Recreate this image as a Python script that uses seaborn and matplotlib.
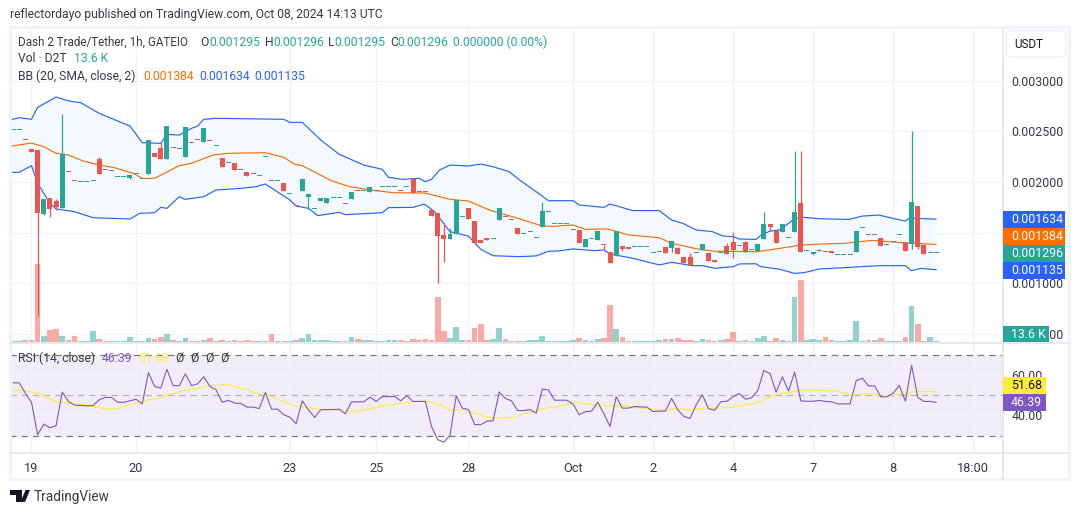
import matplotlib
matplotlib.use("Agg")
import matplotlib.pyplot as plt
import numpy as np
import pandas as pd
import seaborn as sns
from matplotlib.patches import FancyBboxPatch, Polygon, Rectangle

W, H = 1080, 515

# candles, prices in millionths of USDT, one entry per hourly bar
opens = [
    2509, 2509, 2411, 2325, 2315, 1684, 1842, 1813, 1743, 2095,
    2006, 1997, 1997, 2006, 2227, 2115, 2105, 2046, 2046, 2043,
    2075, 2026, 2082, 2286, 2335, 2227, 2332, 2322, 2246, 2381,
    2411, 2394, 2401, 2352, 2237, 2184, 2187, 2115, 2098, 2075,
    2056, 2246, 2006, 2006, 1990, 1878, 1766, 1911, 1852, 1734,
    1812, 1793, 1839, 1839, 1780, 1832, 1908, 1908, 1901, 1908,
    1947, 1947, 1947, 1908, 1947, 2026, 1905, 1905, 1724, 1694,
    1477, 1438, 1490, 1651, 1743, 1615, 1428, 1434, 1434, 1625,
    1651, 1622, 1546, 1484, 1504, 1445, 1557, 1701, 1583, 1583,
    1583, 1524, 1527, 1359, 1435, 1428, 1376, 1310, 1271, 1369,
    1359, 1356, 1356, 1356, 1297, 1307, 1359, 1349, 1349, 1261,
    1261, 1297, 1330, 1300, 1231, 1297, 1369, 1409, 1366, 1409,
    1326, 1320, 1438, 1585, 1516, 1506, 1444, 1506, 1793, 1316,
    1290, 1316, 1306, 1319, 1276, 1276, 1276, 1309, 1543, 1474,
    1474, 1447, 1375, 1405, 1474, 1398, 1388, 1763, 1378, 1296,
    1295,
]
closes = [
    2509, 2509, 2410, 2296, 1697, 1832, 1737, 1753, 2276, 2094,
    2005, 1997, 1997, 2006, 2082, 2114, 2105, 2046, 2046, 2069,
    2075, 2026, 2414, 2246, 2227, 2552, 2331, 2322, 2542, 2380,
    2410, 2532, 2400, 2352, 2148, 2184, 2118, 2114, 2059, 2074,
    2056, 2246, 2005, 2006, 1911, 1878, 1765, 2029, 1881, 1734,
    1842, 1842, 1839, 1839, 1779, 1901, 1907, 1908, 1951, 1907,
    1947, 1947, 1947, 1907, 1947, 1891, 1904, 1904, 1665, 1467,
    1438, 1487, 1822, 1651, 1635, 1398, 1398, 1433, 1434, 1743,
    1650, 1622, 1487, 1484, 1504, 1445, 1714, 1701, 1583, 1583,
    1583, 1524, 1399, 1438, 1435, 1517, 1375, 1202, 1517, 1340,
    1340, 1356, 1356, 1356, 1297, 1307, 1300, 1418, 1290, 1202,
    1182, 1297, 1389, 1221, 1211, 1297, 1290, 1330, 1366, 1310,
    1326, 1389, 1585, 1556, 1398, 1585, 1444, 1704, 1309, 1316,
    1306, 1316, 1305, 1299, 1276, 1276, 1276, 1516, 1543, 1473,
    1474, 1369, 1375, 1405, 1474, 1319, 1802, 1359, 1290, 1296,
    1296,
]
# only the bars that have a visible wick
wick_highs = {
    7: 1832, 8: 2670, 14: 2250, 24: 2388, 70: 1592, 71: 1543, 86: 1803,
    108: 1359, 110: 1300, 116: 1399, 117: 1507, 119: 1418, 122: 1704,
    127: 2305, 128: 2305, 131: 1336, 146: 2503,
}
wick_lows = {
    4: 679, 5: 1674, 6: 1658, 7: 1724, 19: 2033, 48: 1730, 69: 1004, 70: 1214,
    96: 1317, 99: 1320, 107: 1310, 117: 1251, 123: 1516, 130: 1280,
    146: 1336, 147: 1336,
}
# volume in thousands of D2T
volumes = [
    14, 14, 27, 27, 1062, 81, 162, 176, 81, 27,
    81, 14, 14, 149, 41, 14, 14, 14, 14, 68,
    14, 14, 54, 41, 68, 108, 27, 14, 54, 14,
    14, 27, 54, 14, 27, 14, 27, 14, 27, 14,
    14, 14, 108, 14, 14, 14, 27, 54, 108, 27,
    27, 27, 14, 14, 14, 68, 41, 27, 27, 14,
    14, 27, 27, 27, 14, 41, 27, 41, 27, 608,
    149, 54, 203, 27, 27, 189, 243, 27, 41, 189,
    41, 14, 14, 14, 27, 27, 81, 14, 14, 14,
    14, 27, 54, 27, 14, 41, 54, 500, 176, 68,
    14, 14, 14, 14, 14, 27, 41, 41, 54, 27,
    27, 14, 41, 27, 14, 27, 41, 135, 14, 27,
    14, 54, 81, 14, 54, 27, 14, 608, 837, 27,
    41, 27, 68, 27, 14, 14, 27, 284, 14, 27,
    27, 54, 14, 14, 14, 68, 486, 243, 14, 68,
    13.6,
]

# bollinger bands, read as polylines: (bar, price)
upper_x = [-1, 1, 3, 4, 7, 9, 11, 14, 19, 21, 24, 25, 27, 29, 30, 31, 33, 44, 45, 47, 50, 53, 57, 60, 61,
           63.3, 66, 67, 68, 69.3, 71, 74, 76, 78, 80.6, 82.3, 85, 87, 91, 92, 96, 97, 100.7, 105, 107, 108.8,
           111, 113.6, 115.3, 117, 118, 120.7, 121.5, 123, 124.5, 126, 127, 128.5, 131, 135.8, 138, 140.7, 143,
           145, 146, 146.5, 150]
upper_y = [2605, 2634, 2618, 2736, 2838, 2799, 2782, 2677, 2552, 2388, 2381, 2470, 2463, 2529, 2552, 2618, 2628,
           2618, 2588, 2588, 2414, 2273, 2167, 2125, 2046, 2026, 2036, 2003, 2026, 2118, 2167, 2158, 2177, 2151,
           2102, 2020, 1905, 1816, 1816, 1773, 1750, 1783, 1718, 1718, 1626, 1593, 1527, 1511, 1468, 1461, 1438,
           1434, 1477, 1516, 1526, 1592, 1641, 1651, 1638, 1631, 1664, 1674, 1641, 1615, 1660, 1641, 1634]
basis_x = [-1, 3, 5, 7, 9, 11.4, 14, 16.5, 19.5, 21, 23, 27, 29, 32.5, 35, 41, 44, 45.7, 47, 51.7, 54.7, 58.5, 61.7,
           67, 71, 74, 77.4, 82, 86, 87.7, 91, 93, 96.6, 100, 105, 107, 111.5, 114, 121, 124.5, 128, 131, 135, 139.6,
           143, 145, 150]
basis_y = [2348, 2384, 2348, 2283, 2266, 2207, 2168, 2141, 2085, 2036, 2036, 2161, 2184, 2266, 2283, 2289, 2243,
           2177, 2161, 2013, 1954, 1918, 1895, 1891, 1829, 1812, 1724, 1642, 1566, 1563, 1576, 1533, 1537, 1478,
           1451, 1395, 1336, 1317, 1313, 1345, 1378, 1388, 1395, 1424, 1408, 1401, 1384]
lower_x = [-1, 1, 3, 4, 6, 7, 10, 13, 19, 20.6, 23, 24, 25, 27, 28, 31, 33, 37, 39.5, 41, 45, 46, 48, 49.5, 53, 54,
           60, 61, 65, 66.8, 68.5, 71, 74, 76, 78, 82.3, 85, 87, 88.5, 91, 94.5, 96, 97, 100.7, 105, 107, 110.4, 112,
           114, 117, 118, 120.7, 121.5, 124.5, 127, 128.5, 131, 135, 140.7, 145, 146, 147.5, 150]
lower_y = [2095, 2095, 2161, 1987, 1790, 1734, 1707, 1648, 1635, 1691, 1697, 1750, 1740, 1855, 1829, 1855, 1921,
           1937, 1954, 1980, 1822, 1763, 1740, 1668, 1701, 1678, 1697, 1747, 1750, 1783, 1707, 1510, 1467, 1336,
           1273, 1264, 1271, 1317, 1320, 1340, 1323, 1330, 1290, 1248, 1182, 1208, 1175, 1175, 1149, 1165, 1192,
           1194, 1165, 1140, 1099, 1106, 1142, 1155, 1175, 1175, 1125, 1148, 1135]

rsi = [
    56.1, 56.1, 51.0, 46.5, 30.4, 35.7, 33.9, 34.9, 51.5, 46.9,
    45.1, 44.9, 44.7, 44.9, 47.7, 48.9, 48.9, 46.5, 46.5, 47.2,
    48.0, 45.7, 61.2, 54.3, 53.5, 62.8, 54.8, 54.6, 60.5, 54.8,
    55.6, 59.1, 54.3, 52.6, 46.5, 47.4, 46.1, 45.9, 44.1, 44.1,
    43.4, 51.3, 43.1, 43.1, 40.3, 39.1, 35.9, 47.2, 42.8, 39.0,
    42.8, 42.9, 42.9, 43.1, 40.8, 46.7, 46.7, 46.7, 49.0, 46.9,
    49.3, 49.3, 49.3, 47.2, 49.8, 46.9, 46.9, 46.9, 34.5, 28.0,
    26.8, 30.1, 49.7, 43.6, 42.9, 35.5, 35.4, 37.2, 37.3, 51.6,
    48.4, 47.2, 42.4, 42.4, 42.9, 41.1, 53.0, 52.6, 47.5, 47.5,
    47.5, 45.6, 40.3, 41.9, 42.1, 46.5, 40.8, 34.5, 49.2, 43.6,
    43.6, 44.4, 44.2, 44.1, 41.9, 42.1, 42.1, 48.4, 42.8, 39.5,
    38.5, 45.2, 50.2, 43.3, 42.6, 46.7, 47.0, 49.2, 50.8, 48.0,
    48.7, 52.3, 62.2, 60.7, 51.5, 59.1, 52.1, 61.4, 47.2, 47.0,
    47.0, 47.4, 46.9, 46.7, 45.7, 45.7, 45.7, 57.2, 58.4, 54.6,
    54.5, 49.2, 49.2, 51.0, 54.8, 47.0, 64.8, 48.9, 46.9, 46.9,
    46.39,
]
rsi_ma_x = [-1, 1.1, 2.7, 4.4, 6, 7.3, 9.8, 12.5, 14.6, 16.8, 18.7, 20.6, 22, 23.8, 25.2, 27.9, 29.8, 32, 35, 36.3,
            37.9, 39.5, 41.1, 43.8, 46, 47.9, 49.8, 53, 55.2, 56.3, 59, 60, 61.7, 63.9, 67.1, 69.3, 70.9, 73.6, 76.3,
            78.2, 81.4, 83.9, 86.6, 88.7, 91.5, 93.6, 96.8, 99.6, 101.2, 102.8, 104.4, 106, 107.7, 109.8, 112.5,
            114.7, 117.1, 120.9, 122.8, 125, 126.3, 127.7, 130.9, 134, 136.3, 138, 139.8, 141.2, 142.8, 145, 146.6,
            150]
rsi_ma_y = [51.8, 52.6, 51.8, 50.7, 48.0, 46.5, 46.0, 44.9, 43.4, 43.1, 45.2, 46.5, 47.7, 48.5, 50.2, 52.3, 53.1,
            54.8, 55.1, 54.0, 53.0, 51.0, 50.2, 47.2, 44.4, 43.9, 42.9, 42.6, 41.9, 42.4, 43.9, 44.9, 45.2, 46.5,
            47.2, 45.2, 42.9, 42.4, 39.8, 38.5, 39.1, 41.6, 43.6, 44.4, 46.5, 45.4, 44.6, 44.9, 43.8, 43.6, 42.8,
            42.6, 43.4, 42.8, 43.6, 43.6, 44.2, 46.2, 49.0, 51.0, 51.3, 52.5, 52.5, 51.8, 50.2, 50.7, 50.5, 49.0,
            50.2, 50.8, 51.8, 51.68]

price_ticks = [500, 1000, 1500, 2000, 2500, 3000]
rsi_ticks = [40, 60]
date_ticks = [3, 20, 45, 59, 74, 91, 104, 117, 130, 143, 156]
date_labels = ["19", "20", "23", "25", "28", "Oct", "2", "4", "7", "8", "18:00"]

GREEN = "#26a69a"
RED = "#ef5350"
BLUE = "#2962ff"
ORANGE = "#ff6d00"
PURPLE = "#7e57c2"
YELLOW = "#ffeb3b"
GRID = "#f0f3fa"
TEXT = "#131722"
FRAME = "#e0e3eb"

sns.set_theme(style="white")
plt.rcParams["font.family"] = ["Roboto", "DejaVu Sans"]


def axes_px(fig, left, top, right, bottom):
    return fig.add_axes([left / W, 1 - bottom / H, (right - left) / W, (bottom - top) / H])


def fig_text(fig, x, y, s, **kw):
    kw.setdefault("va", "center")
    kw.setdefault("fontsize", 8.7)
    kw.setdefault("color", "#363a45")
    kw.setdefault("zorder", 6)
    fig.text(x / W, 1 - y / H, s, **kw)


def fig_box(fig, left, top, right, bottom, color):
    fig.add_artist(Rectangle((left / W, 1 - bottom / H), (right - left) / W, (bottom - top) / H,
                             transform=fig.transFigure, facecolor=color, edgecolor="none", zorder=5))


def style_pane(ax, ylim, ticks, labels):
    ax.set_xlim(-0.49, 160.85)
    ax.set_ylim(*ylim)
    ax.set_yticks(ticks)
    ax.set_yticklabels(labels)
    ax.yaxis.tick_right()
    ax.set_xticks(date_ticks)
    ax.set_xticklabels([])
    ax.grid(True, color=GRID, linewidth=1.0)
    ax.tick_params(axis="both", length=0, labelsize=8.9, labelcolor="#363a45", pad=6)
    ax.set_axisbelow(True)
    for side in ax.spines.values():
        side.set_visible(False)
    ax.set_xlabel("")
    ax.set_ylabel("")


fig = plt.figure(figsize=(W / 100, H / 100), dpi=100, facecolor="white")

candles = pd.DataFrame({"bar": np.arange(len(opens)), "open": opens, "close": closes, "volume": volumes})
candles["high"] = candles[["open", "close"]].max(axis=1)
candles["low"] = candles[["open", "close"]].min(axis=1)
candles.loc[list(wick_highs), "high"] = list(wick_highs.values())
candles.loc[list(wick_lows), "low"] = list(wick_lows.values())
candles["side"] = np.where(candles["close"] >= candles["open"], "up", "down")
colors = candles["side"].map({"up": GREEN, "down": RED})

# volume sits on its own scale under the price pane
ax_vol = axes_px(fig, 10, 28, 1003, 342)
sns.barplot(data=candles, x="bar", y="volume", hue="side", palette={"up": "#92d2cc", "down": "#f8a9a8"},
            native_scale=True, dodge=False, width=0.92, saturation=1, linewidth=0, legend=False, ax=ax_vol)
ax_vol.set_xlim(-0.49, 160.85)
ax_vol.set_ylim(0, 4270)
ax_vol.axis("off")
ax_vol.patch.set_visible(False)

ax = axes_px(fig, 10, 28, 1003, 342)
ax.patch.set_visible(False)
ax_vol.set_zorder(2)
ax.set_zorder(1)

ax_top = axes_px(fig, 10, 28, 1003, 342)
ax_top.patch.set_visible(False)
ax_top.set_zorder(3)

style_pane(ax, (422.4, 3518.4), price_ticks, [f"{t / 1e6:.6f}" for t in price_ticks])

ax.fill(np.r_[upper_x, lower_x[::-1]], np.r_[upper_y, lower_y[::-1]], color="#f3f9fe", linewidth=0, zorder=1.5)

ax_top.set_xlim(-0.49, 160.85)
ax_top.set_ylim(422.4, 3518.4)
ax_top.axis("off")
sns.lineplot(x=upper_x, y=upper_y, color=BLUE, linewidth=0.85, estimator=None, sort=False, ax=ax_top)
sns.lineplot(x=lower_x, y=lower_y, color=BLUE, linewidth=0.85, estimator=None, sort=False, ax=ax_top)
sns.lineplot(x=basis_x, y=basis_y, color=ORANGE, linewidth=0.85, estimator=None, sort=False, ax=ax_top)

ax_top.vlines(candles["bar"], candles["low"], candles["high"], colors=colors, linewidth=0.9, zorder=4)
bodies = (candles["close"] - candles["open"]).abs().clip(lower=10)
ax_top.bar(candles["bar"], bodies, bottom=candles[["open", "close"]].min(axis=1), width=0.81,
           color=colors, linewidth=0, zorder=5)

# rsi pane
ax_rsi = axes_px(fig, 10, 343, 1003, 452)
ax_rsi.axhspan(30, 70, color=PURPLE, alpha=0.1, linewidth=0, zorder=0.5)
sns.lineplot(x=candles["bar"], y=rsi, color=PURPLE, linewidth=0.8, estimator=None, ax=ax_rsi, zorder=4)
sns.lineplot(x=rsi_ma_x, y=rsi_ma_y, color=YELLOW, linewidth=0.85, estimator=None, sort=False, ax=ax_rsi, zorder=3)
style_pane(ax_rsi, (21.9, 75.8), rsi_ticks, [f"{t:.2f}" for t in rsi_ticks])
ax_rsi.set_xticklabels(date_labels)
ax_rsi.tick_params(axis="x", pad=7, labelsize=9.2)
ax_rsi.axhline(70, color="#787b86", linewidth=0.9, dashes=(5, 4), zorder=2)
ax_rsi.axhline(30, color="#787b86", linewidth=0.9, dashes=(5, 4), zorder=2)
ax_rsi.axhline(50, color="#787b86", alpha=0.5, linewidth=0.9, dashes=(5, 4), zorder=2)

# frame and pane separators
fig.add_artist(Rectangle((10 / W, 1 - 479 / H), 1059 / W, 452 / H, transform=fig.transFigure,
                         facecolor="none", edgecolor=GRID, linewidth=2.2, zorder=4))
for y_px in (342.5, 452.5):
    fig.add_artist(plt.Line2D([10 / W, 1069 / W], [1 - y_px / H] * 2, color=FRAME, linewidth=1.1, zorder=4))
fig.add_artist(plt.Line2D([1002.7 / W] * 2, [1 - 28 / H, 1 - 479 / H], color=FRAME, linewidth=1.1, zorder=4))

# header and legends
fig_text(fig, 10, 14.5, "reflectordayo published on TradingView.com, Oct 08, 2024 14:13 UTC", fontsize=8.7)
fig_text(fig, 18, 42, "Dash 2 Trade/Tether, 1h, GATEIO", fontsize=8.4)
for x_label, label, x_value, value in [
    (200.7, "O", 209, "0.001295"), (265, "H", 273, "0.001296"),
    (328, "L", 334.5, "0.001295"), (390, "C", 397, "0.001296"),
]:
    fig_text(fig, x_label, 42, label)
    fig_text(fig, x_value, 42, value, color=GREEN)
fig_text(fig, 452.7, 42, "0.000000 (0.00%)", color=GREEN)
fig_text(fig, 18, 59, "Vol · D2T")
fig_text(fig, 74, 59, "13.6 K", color=GREEN)
fig_text(fig, 18, 76, "BB (20, SMA, close, 2)")
fig_text(fig, 143, 76, "0.001384", color=ORANGE)
fig_text(fig, 199, 76, "0.001634", color=BLUE)
fig_text(fig, 254, 76, "0.001135", color=BLUE)
fig_text(fig, 18, 358, "RSI (14, close)")
fig_text(fig, 102, 358, "46.39", color=PURPLE)
fig_text(fig, 138.5, 358, "51.68", color=YELLOW)
for x_zero in (175, 190, 205, 220):
    fig_text(fig, x_zero, 358, "Ø")

# axis value flags
for top, bottom, color, label in [
    (211, 228, BLUE, "0.001634"), (228, 245, ORANGE, "0.001384"),
    (245, 262, GREEN, "0.001296"), (262, 279, BLUE, "0.001135"),
]:
    fig_box(fig, 1003, top, 1065, bottom, color)
    fig_text(fig, 1011, (top + bottom) / 2, label, color="white", fontsize=8.9)
fig_box(fig, 1003, 326, 1049, 342, GREEN)
fig_text(fig, 1011, 334, "13.6 K", color="white", fontsize=8.9)
fig_box(fig, 1003, 377, 1046, 394, YELLOW)
fig_text(fig, 1011, 385.5, "51.68", color=TEXT, fontsize=8.9)
fig_box(fig, 1003, 394, 1046, 411, PURPLE)
fig_text(fig, 1011, 402.5, "46.39", color="white", fontsize=8.9)

fig.add_artist(FancyBboxPatch((1008 / W, 1 - 55 / H), 56 / W, 22 / H, boxstyle="round,pad=0.002,rounding_size=0.004",
                              transform=fig.transFigure, facecolor="white", edgecolor=GRID, linewidth=1.2,
                              mutation_aspect=W / H, zorder=5))
fig_text(fig, 1014, 44.5, "USDT", color=TEXT, fontsize=8.4)

# tradingview mark and name
logo_parts = [
    [(10, 490), (22, 490), (22, 502), (16, 502), (16, 495), (10, 495)],
    [(25.5, 490), (30, 490), (25, 502), (20.5, 502)],
]
for part in logo_parts:
    fig.add_artist(Polygon([(x / W, 1 - y / H) for x, y in part], closed=True, transform=fig.transFigure,
                           facecolor=TEXT, edgecolor="none", zorder=6))
fig_text(fig, 33.5, 497, "TradingView", fontsize=9.8)

fig.savefig("out.png", dpi=100, facecolor="white")
